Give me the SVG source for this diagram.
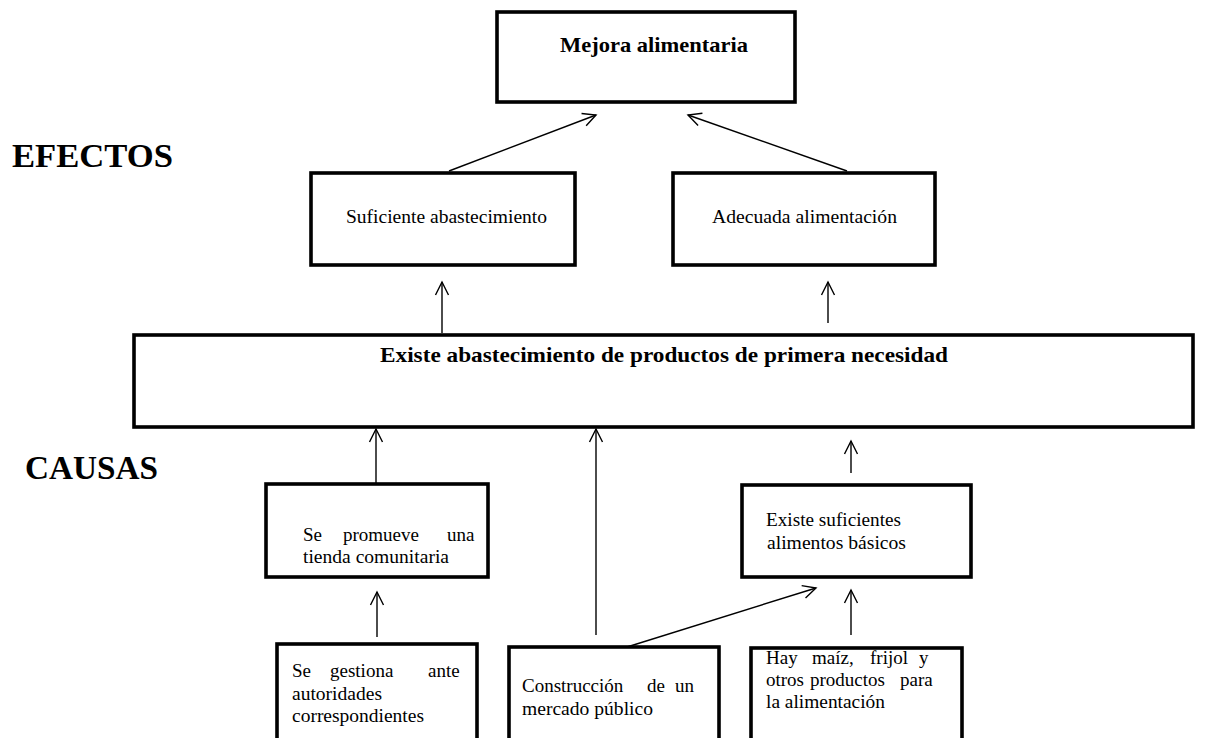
<svg xmlns="http://www.w3.org/2000/svg" width="1218" height="738" viewBox="0 0 1218 738">
<defs>
<style>
.box{fill:#fff;stroke:#000;stroke-width:3.6}
.t{font-family:"Liberation Serif","Times New Roman",serif;font-size:19px;fill:#000}
.b{font-family:"Liberation Serif","Times New Roman",serif;font-weight:bold;fill:#000}
.c{stroke:#000;stroke-width:1.4;fill:none}
</style>
<marker id="ah" markerUnits="userSpaceOnUse" markerWidth="16" markerHeight="16" viewBox="0 0 16 16" refX="14" refY="8" orient="auto">
<path d="M1,1.5 L14,8 L1,14.5" fill="none" stroke="#000" stroke-width="1.4"/>
</marker>
</defs>
<rect width="1218" height="738" fill="#fff"/>
<text class="b" x="12" y="167" font-size="34" textLength="161" lengthAdjust="spacingAndGlyphs">EFECTOS</text>
<text class="b" x="25" y="479" font-size="34" textLength="133" lengthAdjust="spacingAndGlyphs">CAUSAS</text>
<g id="connectors">
<line class="c" x1="449" y1="171" x2="596" y2="115" marker-end="url(#ah)"/>
<line class="c" x1="847" y1="171" x2="688" y2="115" marker-end="url(#ah)"/>
<line class="c" x1="442" y1="333" x2="442" y2="282" marker-end="url(#ah)"/>
<line class="c" x1="828" y1="323" x2="828" y2="282" marker-end="url(#ah)"/>
<line class="c" x1="376" y1="483" x2="376" y2="429" marker-end="url(#ah)"/>
<line class="c" x1="851" y1="473" x2="851" y2="441" marker-end="url(#ah)"/>
<line class="c" x1="377" y1="637" x2="377" y2="592" marker-end="url(#ah)"/>
<line class="c" x1="596" y1="635" x2="596" y2="429" marker-end="url(#ah)"/>
<line class="c" x1="627" y1="647" x2="816" y2="588" marker-end="url(#ah)"/>
<line class="c" x1="851" y1="635" x2="851" y2="590" marker-end="url(#ah)"/>
</g>
<g id="mejora">
<rect class="box" x="497" y="12" width="298" height="90"/>
<text class="b" x="560" y="52" font-size="22" textLength="188" lengthAdjust="spacingAndGlyphs">Mejora alimentaria</text>
</g>
<g id="suficiente">
<rect class="box" x="311" y="173" width="264" height="92"/>
<text class="t" x="346" y="223" textLength="201" lengthAdjust="spacingAndGlyphs">Suficiente abastecimiento</text>
</g>
<g id="adecuada">
<rect class="box" x="673" y="173" width="262" height="92"/>
<text class="t" x="712" y="223" textLength="185" lengthAdjust="spacingAndGlyphs">Adecuada alimentación</text>
</g>
<g id="existe-abastecimiento">
<rect class="box" x="134" y="335" width="1059" height="92"/>
<text class="b" x="380" y="362" font-size="21" textLength="568" lengthAdjust="spacingAndGlyphs">Existe abastecimiento  de productos de primera necesidad</text>
</g>
<g id="se-promueve">
<rect class="box" x="266" y="484" width="222" height="93"/>
<text class="t" y="541"><tspan x="303">Se</tspan><tspan x="343">promueve</tspan><tspan x="447">una</tspan></text>
<text class="t" x="303" y="563" textLength="146" lengthAdjust="spacingAndGlyphs">tienda comunitaria</text>
</g>
<g id="existe-suficientes">
<rect class="box" x="742" y="485" width="229" height="92"/>
<text class="t" x="766" y="526" textLength="135" lengthAdjust="spacingAndGlyphs">Existe suficientes</text>
<text class="t" x="767" y="549" textLength="139" lengthAdjust="spacingAndGlyphs">alimentos básicos</text>
</g>
<g id="se-gestiona">
<rect class="box" x="277" y="644" width="200" height="104"/>
<text class="t" y="677"><tspan x="292">Se</tspan><tspan x="330">gestiona</tspan><tspan x="428">ante</tspan></text>
<text class="t" x="292" y="700" textLength="90" lengthAdjust="spacingAndGlyphs">autoridades</text>
<text class="t" x="292" y="722" textLength="132" lengthAdjust="spacingAndGlyphs">correspondientes</text>
</g>
<g id="construccion">
<rect class="box" x="509" y="647" width="210" height="101"/>
<text class="t" y="692"><tspan x="522">Construcción</tspan><tspan x="647">de</tspan><tspan x="675">un</tspan></text>
<text class="t" x="522" y="715" textLength="131" lengthAdjust="spacingAndGlyphs">mercado público</text>
</g>
<g id="hay-maiz">
<rect class="box" x="751" y="648" width="211" height="100"/>
<text class="t" y="664"><tspan x="766">Hay</tspan><tspan x="812">maíz,</tspan><tspan x="870">frijol</tspan><tspan x="919">y</tspan></text>
<text class="t" y="686"><tspan x="766">otros</tspan><tspan x="810">productos</tspan><tspan x="900">para</tspan></text>
<text class="t" x="766" y="708" textLength="119" lengthAdjust="spacingAndGlyphs">la alimentación</text>
</g>
</svg>
